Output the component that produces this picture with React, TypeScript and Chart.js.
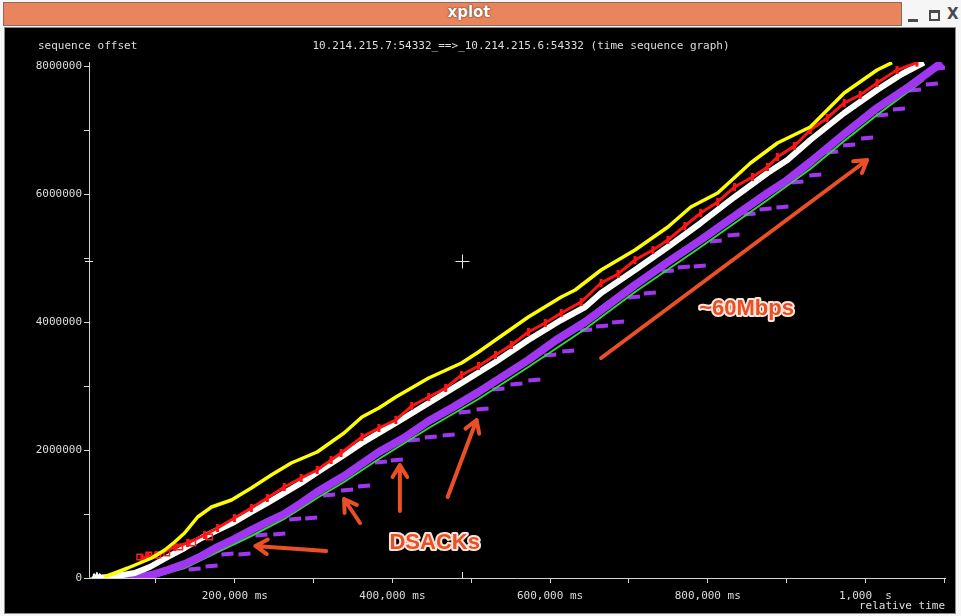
import React, { useEffect, useRef } from 'react';
import { Chart, registerables } from 'chart.js';

Chart.register(...registerables);

// ---------- axes ----------
const X_MIN = 15000;
const X_MAX = 1101000;
const Y_MIN = 0;
const Y_MAX = 8070000;
const X_TICKS = [100000, 200000, 300000, 400000, 500000, 600000, 700000, 800000, 900000, 1000000, 1100000];
const X_TICK_LABELS = ['', '200,000 ms', '', '400,000 ms', '', '600,000 ms', '', '800,000 ms', '', '1,000  s', ''];
const Y_TICKS = [0, 1000000, 2000000, 3000000, 4000000, 5000000, 6000000, 7000000, 8000000];
const Y_TICK_LABELS = ['0', '', '2000000', '', '4000000', '', '6000000', '', '8000000'];
const X_TITLE = 'relative time';
const Y_TITLE = 'sequence offset';
const CHART_TITLE = '10.214.215.7:54332_==>_10.214.215.6:54332 (time sequence graph)';

// ---------- series (time ms, sequence offset) ----------
const YELLOW: [number, number][] = [
  [34000, 16000], [47900, 78200], [64300, 156400], [79500, 234600], [94600, 312800], [111100, 437900],
  [123700, 563000], [136300, 703800], [152800, 954000], [170500, 1110400], [195800, 1219900], [221000, 1407600],
  [246300, 1610900], [271600, 1798600], [304500, 1970600], [338600, 2267800], [361300, 2518000], [382800, 2658800],
  [404300, 2830800], [446000, 3128000], [487700, 3362600], [509200, 3534600], [530700, 3722300], [572400, 4082000],
  [614100, 4394800], [631800, 4504300], [664700, 4817100], [707700, 5129900], [749400, 5489600], [778500, 5802400],
  [812600, 6021400], [854300, 6490600], [888400, 6803400], [930100, 7053600], [973100, 7585400], [1014800, 7945100],
  [1033800, 8060000],
];

const WHITE: [number, number][] = [
  [20000, 0], [41500, 15600], [73100, 78200], [92100, 172000], [114900, 328400], [136300, 469200],
  [157800, 625600], [178100, 750700], [199500, 875800], [221000, 1032200], [241300, 1173000], [262700, 1329400],
  [284200, 1485800], [307000, 1673500], [338600, 1923700], [361300, 2111400], [382800, 2267800], [404300, 2424200],
  [446000, 2737000], [487700, 3049800], [530700, 3378200], [572400, 3722300], [614100, 4035100], [644500, 4238400],
  [664700, 4457400], [707700, 4817100], [749400, 5176800], [791100, 5552200], [834100, 5958800], [875800, 6334200],
  [901100, 6537500], [930100, 6850300], [973100, 7272600], [1014800, 7632300], [1046400, 7882600], [1074200, 8060000],
];

const RED: [number, number][] = [
  [82000, 312800], [89600, 328400], [101000, 359700], [123700, 484800], [140100, 547400], [161600, 672500],
  [178100, 782000], [199500, 938400], [221000, 1094800], [241300, 1251200], [262700, 1423200], [284200, 1564000],
  [304500, 1689100], [322200, 1845500], [334800, 1955000], [361300, 2205200], [382800, 2346000], [404300, 2471100],
  [424500, 2690100], [446000, 2830800], [467500, 2971600], [487700, 3174900], [509200, 3315700], [530700, 3487700],
  [550900, 3644100], [572400, 3847400], [593900, 3988200], [614100, 4144600], [639400, 4316600], [664700, 4613800],
  [686200, 4754600], [707700, 4973500], [730400, 5129900], [749400, 5286300], [770900, 5505300], [791100, 5708600],
  [812600, 5880600], [834100, 6115200], [856800, 6271600], [875800, 6428000], [888400, 6584400], [909900, 6756500],
  [930100, 7006700], [951600, 7194400], [973100, 7429000], [993300, 7554100], [1014800, 7741800], [1040100, 7945100],
  [1065400, 8060000],
];

const RED_BOXES: [number, number][] = [
  [79500, 328400], [90800, 359700], [102200, 359700], [113600, 391000], [130000, 484800], [146500, 547400],
  [167900, 641200],
];

const PURPLE: [number, number][] = [
  [60500, 0], [79500, 15600], [94600, 46900], [114900, 125100], [136300, 219000], [157800, 344100],
  [178100, 484800], [199500, 610000], [221000, 750700], [241300, 875800], [262700, 1001000], [284200, 1173000],
  [304500, 1345000], [338600, 1595300], [382800, 1970600], [414400, 2189600], [446000, 2455500], [477600, 2674400],
  [509200, 2909000], [540800, 3159300], [572400, 3409500], [607800, 3722300], [644500, 4003800], [673500, 4269700],
  [707700, 4582500], [749400, 4942200], [791100, 5286300], [834100, 5661700], [875800, 6021400], [901100, 6224700],
  [930100, 6506200], [973100, 6944200], [1014800, 7350800], [1056500, 7694900], [1097000, 8060000],
];

const GREEN: [number, number][] = [
  [15000, 0], [54200, 0], [79500, 0], [104700, 46900], [136300, 156400], [178100, 406600],
  [221000, 656900], [262700, 922800], [304500, 1251200], [338600, 1501400], [382800, 1861200], [446000, 2346000],
  [509200, 2799600], [572400, 3300000], [644500, 3894400], [707700, 4473000], [791100, 5176800], [875800, 5911900],
  [930100, 6396800], [973100, 6834700], [1014800, 7241300], [1074200, 7788700],
];

const PURPLE_DASHES: [number, number][] = [
  [149000, 140800], [170500, 187700], [190700, 375400], [212200, 375400], [233700, 672500], [256400, 688200],
  [276600, 922800], [296900, 938400], [319600, 1298100], [342400, 1376300], [363900, 1438900], [385400, 1814200],
  [405600, 1845500], [427100, 2158300], [448600, 2205200], [471300, 2236500], [491500, 2596200], [514300, 2643200],
  [534500, 2956000], [557300, 3034200], [580000, 3096700], [600200, 3487700], [623000, 3550300], [645700, 3878700],
  [666000, 3941300], [686200, 4003800], [706400, 4394800], [726600, 4457400], [749400, 4801500], [769600, 4864000],
  [789800, 4879700], [810100, 5270700], [832800, 5364500], [853000, 5693000], [873300, 5771200], [894700, 5802400],
  [913700, 6193400], [936500, 6302900], [957900, 6662600], [979400, 6772100], [1002200, 6881600], [1021100, 7241300],
  [1042600, 7335200], [1062900, 7632300], [1084300, 7726200], [1098200, 7976400],
];

const ORIGIN_MARK: [number, number][] = [[25000, 10000]];

// ---------- overlay (cursor + hand-drawn annotations), in data units ----------
const CURSOR: [number, number] = [487700, 4957900];
const ARROWS: [number, number, number, number][] = [
  [315800, 422300, 226100, 500500],
  [358800, 860200, 338600, 1235600],
  [409400, 1047900, 409400, 1767300],
  [470000, 1266800, 506700, 2471100],
  [664700, 3440800, 1002200, 6537500],
];
const NOTES: { text: string; x: number; y: number }[] = [
  { text: 'DSACKs', x: 453600, y: 547400 },
  { text: '~60Mbps', x: 849200, y: 4207200 },
];

const toXY = (arr: [number, number][]) => arr.map(([x, y]) => ({ x, y }));

const MONO = '"DejaVu Sans Mono", "Liberation Mono", monospace';
const AXIS_COLOR = '#d4d4d4';
const ANNO_COLOR = '#ea4f26';

const overlayPlugin = {
  id: 'overlay',
  afterDraw(chart: any) {
    const { ctx } = chart;
    const xs = chart.scales.x;
    const ys = chart.scales.y;
    ctx.save();
    ctx.font = `11px ${MONO}`;
    ctx.fillStyle = '#dedede';
    ctx.textBaseline = 'middle';
    ctx.textAlign = 'left';
    ctx.fillText(Y_TITLE, 33, 18);
    ctx.textAlign = 'center';
    ctx.fillText(CHART_TITLE, 516, 18);

    const cx = Math.round(xs.getPixelForValue(CURSOR[0])) + 0.5;
    const cy = Math.round(ys.getPixelForValue(CURSOR[1])) + 0.5;
    ctx.strokeStyle = '#e8e8e8';
    ctx.lineWidth = 1;
    ctx.beginPath();
    ctx.moveTo(cx - 7, cy); ctx.lineTo(cx + 7, cy);
    ctx.moveTo(cx, cy - 7); ctx.lineTo(cx, cy + 7);
    ctx.moveTo(cx, ys.bottom - 6); ctx.lineTo(cx, ys.bottom);
    ctx.moveTo(xs.left - 4, cy); ctx.lineTo(xs.left + 4, cy);
    ctx.stroke();

    ctx.strokeStyle = ANNO_COLOR;
    ctx.lineWidth = 4;
    ctx.lineCap = 'round';
    ctx.lineJoin = 'round';
    for (const [x0, y0, x1, y1] of ARROWS) {
      const px0 = xs.getPixelForValue(x0), py0 = ys.getPixelForValue(y0);
      const px1 = xs.getPixelForValue(x1), py1 = ys.getPixelForValue(y1);
      const ang = Math.atan2(py1 - py0, px1 - px0);
      const hl = 14;
      ctx.beginPath();
      ctx.moveTo(px0, py0);
      ctx.lineTo(px1, py1);
      ctx.moveTo(px1 - hl * Math.cos(ang - 0.55), py1 - hl * Math.sin(ang - 0.55));
      ctx.lineTo(px1, py1);
      ctx.lineTo(px1 - hl * Math.cos(ang + 0.55), py1 - hl * Math.sin(ang + 0.55));
      ctx.stroke();
    }

    ctx.font = 'bold 22px "Liberation Sans", Arial, sans-serif';
    ctx.textAlign = 'center';
    ctx.textBaseline = 'middle';
    for (const n of NOTES) {
      const px = xs.getPixelForValue(n.x), py = ys.getPixelForValue(n.y);
      ctx.lineWidth = 4;
      ctx.strokeStyle = '#fbe6dc';
      ctx.strokeText(n.text, px, py);
      ctx.fillStyle = ANNO_COLOR;
      ctx.fillText(n.text, px, py);
    }
    ctx.restore();
  },
};

export default function App() {
  const ref = useRef<HTMLCanvasElement | null>(null);

  useEffect(() => {
    if (!ref.current) return;
    const chart = new Chart(ref.current, {
      type: 'scatter',
      data: {
        datasets: [
          {
            label: 'yellow', data: toXY(YELLOW), showLine: true, borderColor: '#ffff00', borderWidth: 3.5,
            pointRadius: 0, borderJoinStyle: 'round', order: 1,
          },
          {
            label: 'red', data: toXY(RED), showLine: true, borderColor: '#ff1414', borderWidth: 3,
            pointRadius: 4, pointStyle: 'line', rotation: 90, pointBorderColor: '#ff1414', pointBorderWidth: 3, order: 2,
          },
          {
            label: 'redBoxes', data: toXY(RED_BOXES), showLine: false, pointStyle: 'rect', pointRadius: 4,
            pointBorderColor: '#ff2020', pointBackgroundColor: 'rgba(0,0,0,0)', pointBorderWidth: 1.5, order: 2,
          },
          {
            label: 'origin', data: toXY(ORIGIN_MARK), showLine: false, pointStyle: 'star', pointRadius: 5,
            pointBorderColor: '#ffffff', pointBorderWidth: 2, order: 2,
          },
          {
            label: 'white', data: toXY(WHITE), showLine: true, borderColor: '#ffffff', borderWidth: 6,
            pointRadius: 0, borderJoinStyle: 'round', order: 3,
          },
          {
            label: 'purple', data: toXY(PURPLE), showLine: true, borderColor: '#a036f2', borderWidth: 8,
            pointRadius: 0, borderJoinStyle: 'round', order: 4,
          },
          {
            label: 'green', data: toXY(GREEN), showLine: true, borderColor: '#30d838', borderWidth: 2,
            pointRadius: 0, order: 5,
          },
          {
            label: 'dashes', data: toXY(PURPLE_DASHES), showLine: false, pointStyle: 'line', pointRadius: 6,
            pointBorderColor: '#a036f2', pointBorderWidth: 4, rotation: -4, order: 6,
          },
        ],
      },
      options: {
        animation: false,
        responsive: false,
        devicePixelRatio: 1,
        events: [],
        layout: { padding: { left: 0, right: 7, top: 34, bottom: 0 } },
        plugins: { legend: { display: false }, tooltip: { enabled: false }, title: { display: false } },
        scales: {
          x: {
            type: 'linear',
            min: X_MIN,
            max: X_MAX,
            afterBuildTicks: (s: any) => { s.ticks = X_TICKS.map((v) => ({ value: v })); },
            afterFit: (s: any) => { s.height = 35; },
            ticks: {
              callback: (_v: any, i: number) => X_TICK_LABELS[i],
              color: '#dedede', font: { family: MONO, size: 11 }, autoSkip: false,
              maxRotation: 0, minRotation: 0, padding: 7,
            },
            grid: { drawOnChartArea: false, tickLength: 5, color: AXIS_COLOR },
            border: { display: true, color: AXIS_COLOR, width: 1 },
            title: {
              display: true, text: X_TITLE, align: 'end', color: '#dedede',
              font: { family: MONO, size: 11 }, padding: { top: 0, bottom: 0 },
            },
          },
          y: {
            type: 'linear',
            min: Y_MIN,
            max: Y_MAX,
            afterBuildTicks: (s: any) => { s.ticks = Y_TICKS.map((v) => ({ value: v })); },
            afterFit: (s: any) => { s.width = 84; },
            ticks: {
              callback: (_v: any, i: number) => Y_TICK_LABELS[i],
              color: '#dedede', font: { family: MONO, size: 11 }, autoSkip: false, padding: 2,
            },
            grid: { drawOnChartArea: false, tickLength: 5, color: AXIS_COLOR },
            border: { display: true, color: AXIS_COLOR, width: 1 },
          },
        },
      },
      plugins: [overlayPlugin],
    } as any);
    return () => chart.destroy();
  }, []);

  return (
    <div style={{ position: 'fixed', left: 0, top: 0, width: 961, height: 616, background: '#f6f6f6', overflow: 'hidden' }}>
      <div
        style={{
          position: 'absolute', left: 3, top: 2, width: 899, height: 24, background: '#e9845d',
          border: '1px solid #8c6a5c', boxSizing: 'border-box',
        }}
      />
      <div
        style={{
          position: 'absolute', left: 419, top: 3, width: 100, height: 22, lineHeight: '22px', textAlign: 'center',
          color: '#ffffff', font: 'bold 15px "DejaVu Sans", sans-serif', textShadow: '0 0 2px #6a3018, 0 0 1px #6a3018',
        }}
      >
        xplot
      </div>
      <div style={{ position: 'absolute', left: 908, top: 19, width: 10, height: 3, background: '#4a4a4a' }} />
      <div
        style={{
          position: 'absolute', left: 929, top: 10, width: 11, height: 11, boxSizing: 'border-box',
          border: '2px solid #4a4a4a', borderTopWidth: 3,
        }}
      />
      <div
        style={{
          position: 'absolute', left: 947, top: 5, width: 14, height: 20, lineHeight: '20px', color: '#4a4a4a',
          font: 'bold 15px "DejaVu Sans", sans-serif',
        }}
      >
        X
      </div>
      <div
        style={{
          position: 'absolute', left: 4, top: 27, width: 950, height: 585, background: '#000000',
          border: '1px solid #8a8a8a',
        }}
      >
        <canvas ref={ref} width={950} height={585} style={{ display: 'block', width: 950, height: 585 }} />
      </div>
    </div>
  );
}
